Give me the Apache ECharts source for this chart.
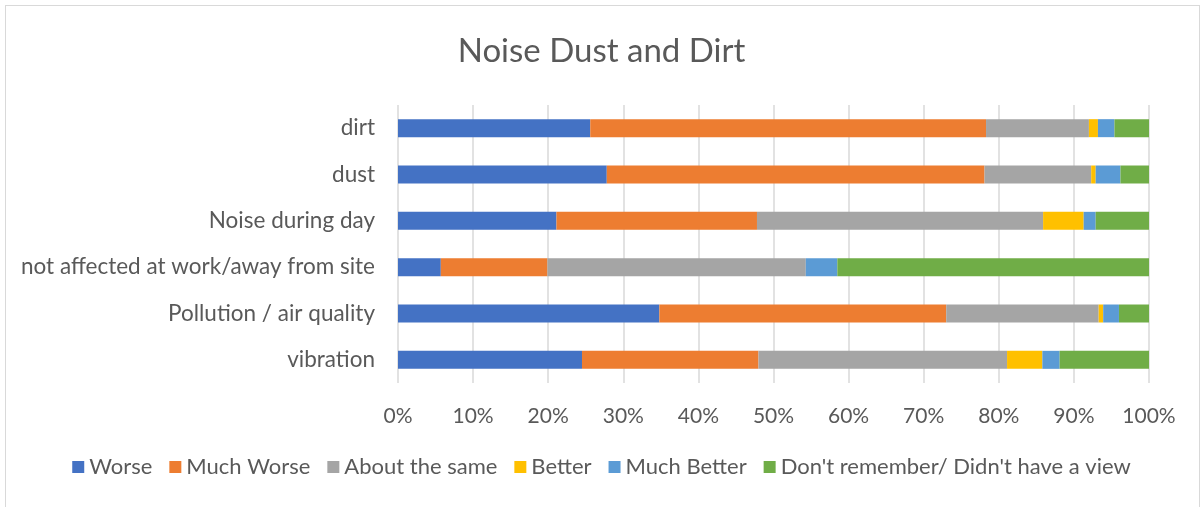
<!DOCTYPE html>
<html>
<head>
<meta charset="utf-8">
<script src="https://cdn.jsdelivr.net/npm/echarts@6/dist/echarts.min.js"></script>
<style>
  html, body { margin: 0; padding: 0; background: #fff; }
  #frame {
    position: absolute; left: 5px; top: 5px;
    width: 1195px; height: 505px;
    border: 1px solid #d9d9d9; box-sizing: border-box;
  }
  #myChart { position: absolute; left: 0; top: 0; width: 1203px; height: 507px; }
</style>
</head>
<body>
<div id="frame"></div>
<div id="myChart"></div>
<script>
var categories = ["dirt", "dust", "Noise during day", "not affected at work/away from site", "Pollution / air quality", "vibration"];
var seriesNames = ["Worse", "Much Worse", "About the same", "Better", "Much Better", "Don't remember/ Didn't have a view"];
var worse = [25.6, 27.8, 21.1, 5.7, 34.8, 24.5];
var muchWorse = [52.7, 50.3, 26.7, 14.2, 38.2, 23.5];
var aboutSame = [13.7, 14.2, 38.1, 34.4, 20.3, 33.1];
var better = [1.2, 0.6, 5.4, 0, 0.6, 4.7];
var muchBetter = [2.2, 3.3, 1.6, 4.2, 2.1, 2.3];
var dontRemember = [4.6, 3.8, 7.1, 41.5, 4.0, 11.9];
var xTicks = [0, 10, 20, 30, 40, 50, 60, 70, 80, 90, 100];

var colors = ["#4472C4", "#ED7D31", "#A5A5A5", "#FFC000", "#5B9BD5", "#70AD47"];
var allData = [worse, muchWorse, aboutSame, better, muchBetter, dontRemember];
var font = "Lato";

var myChart = echarts.init(document.getElementById("myChart"));
var option = {
  animation: false,
  textStyle: { fontFamily: font },
  title: {
    text: "Noise Dust and Dirt",
    left: "center",
    top: 30,
    textStyle: { fontFamily: font, fontSize: 33, fontWeight: "normal", color: "#595959" }
  },
  legend: {
    data: seriesNames,
    bottom: 24,
    left: "center",
    itemWidth: 12,
    itemHeight: 12,
    itemGap: 17,
    icon: "rect",
    textStyle: { fontFamily: font, fontSize: 22, color: "#595959", padding: [0, 0, 0, 0] }
  },
  grid: {
    left: 398,
    right: 54,
    top: 105,
    bottom: 124
  },
  xAxis: {
    type: "value",
    min: xTicks[0],
    max: xTicks[xTicks.length - 1],
    interval: 10,
    axisLine: { show: false },
    axisTick: { show: false },
    splitLine: { show: true, lineStyle: { color: "#d9d9d9", width: 1.5 } },
    axisLabel: {
      formatter: "{value}%",
      margin: 23,
      fontFamily: font,
      fontSize: 21,
      color: "#595959"
    }
  },
  yAxis: {
    type: "category",
    inverse: true,
    data: categories,
    axisLine: { show: false },
    axisTick: { show: false },
    axisLabel: {
      margin: 23,
      fontFamily: font,
      fontSize: 22.5,
      color: "#595959"
    }
  },
  series: seriesNames.map(function (name, i) {
    return {
      name: name,
      type: "bar",
      stack: "total",
      barWidth: 18,
      itemStyle: { color: colors[i] },
      data: allData[i]
    };
  })
};

myChart.setOption(option);
</script>
</body>
</html>
